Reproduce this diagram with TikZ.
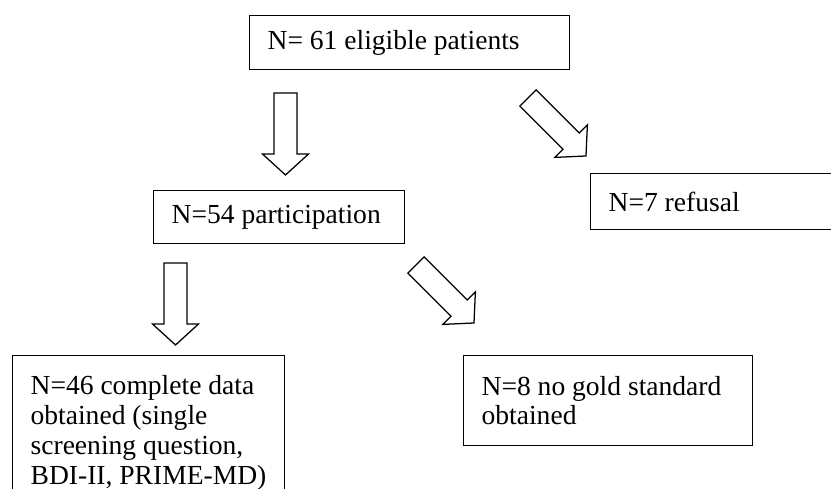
\documentclass[tikz,border=0pt]{standalone}
\usepackage{fontspec}
\setmainfont{Liberation Serif}

\begin{document}
\begin{tikzpicture}
[box/.style={rectangle, draw=black, line width=0.9pt, anchor=north west, align=flush left, inner xsep=0.45cm, inner ysep=0pt, font={\fontsize{19.6}{21.2}\selectfont}},
fatarrow/.style={draw=black, line width=0.9pt, fill=white}]
\useasboundingbox (0, 0) rectangle (20.775, 12.2);

\node[box, text width=7.1cm, minimum height=1.35cm]	(eligible) at (6.225, 11.825) {N= 61 eligible patients};
\node[box, text width=5.375cm, minimum height=1.325cm]	(participation) at (3.825, 7.45) {N=54 participation};
\node[box, text width=5.25cm, minimum height=1.4cm]	(refusal) at (14.75, 7.875) {N=7 refusal};
\node[box, text width=6.325cm, minimum height=2.25cm]	(nogold) at (11.575, 3.325) {N=8 no gold standard\\obtained};
\node[box, text width=5.9cm, inner ysep=0.5cm]	(complete) at (0.3, 3.325) {N=46 complete data\\obtained (single\\screening question,\\BDI-II, PRIME-MD)};

\coordinate (arrow1) at (7.1375, 9.875);
\coordinate (arrow2) at (13.2, 9.75);
\coordinate (arrow3) at (4.3875, 5.625);
\coordinate (arrow4) at (10.4, 5.575);
\draw[fatarrow, shift={(arrow1)}, rotate=-90] (0, 0.2875) -- (1.525, 0.2875) -- (1.525, 0.575) -- (2.05, 0) -- (1.525, -0.575) -- (1.525, -0.2875) -- (0, -0.2875) -- cycle;
\draw[fatarrow, shift={(arrow2)}, rotate=-45] (0, 0.2875) -- (1.525, 0.2875) -- (1.525, 0.575) -- (2.05, 0) -- (1.525, -0.575) -- (1.525, -0.2875) -- (0, -0.2875) -- cycle;
\draw[fatarrow, shift={(arrow3)}, rotate=-90] (0, 0.2875) -- (1.525, 0.2875) -- (1.525, 0.575) -- (2.05, 0) -- (1.525, -0.575) -- (1.525, -0.2875) -- (0, -0.2875) -- cycle;
\draw[fatarrow, shift={(arrow4)}, rotate=-45] (0, 0.2875) -- (1.525, 0.2875) -- (1.525, 0.575) -- (2.05, 0) -- (1.525, -0.575) -- (1.525, -0.2875) -- (0, -0.2875) -- cycle;

\end{tikzpicture}
\end{document}
